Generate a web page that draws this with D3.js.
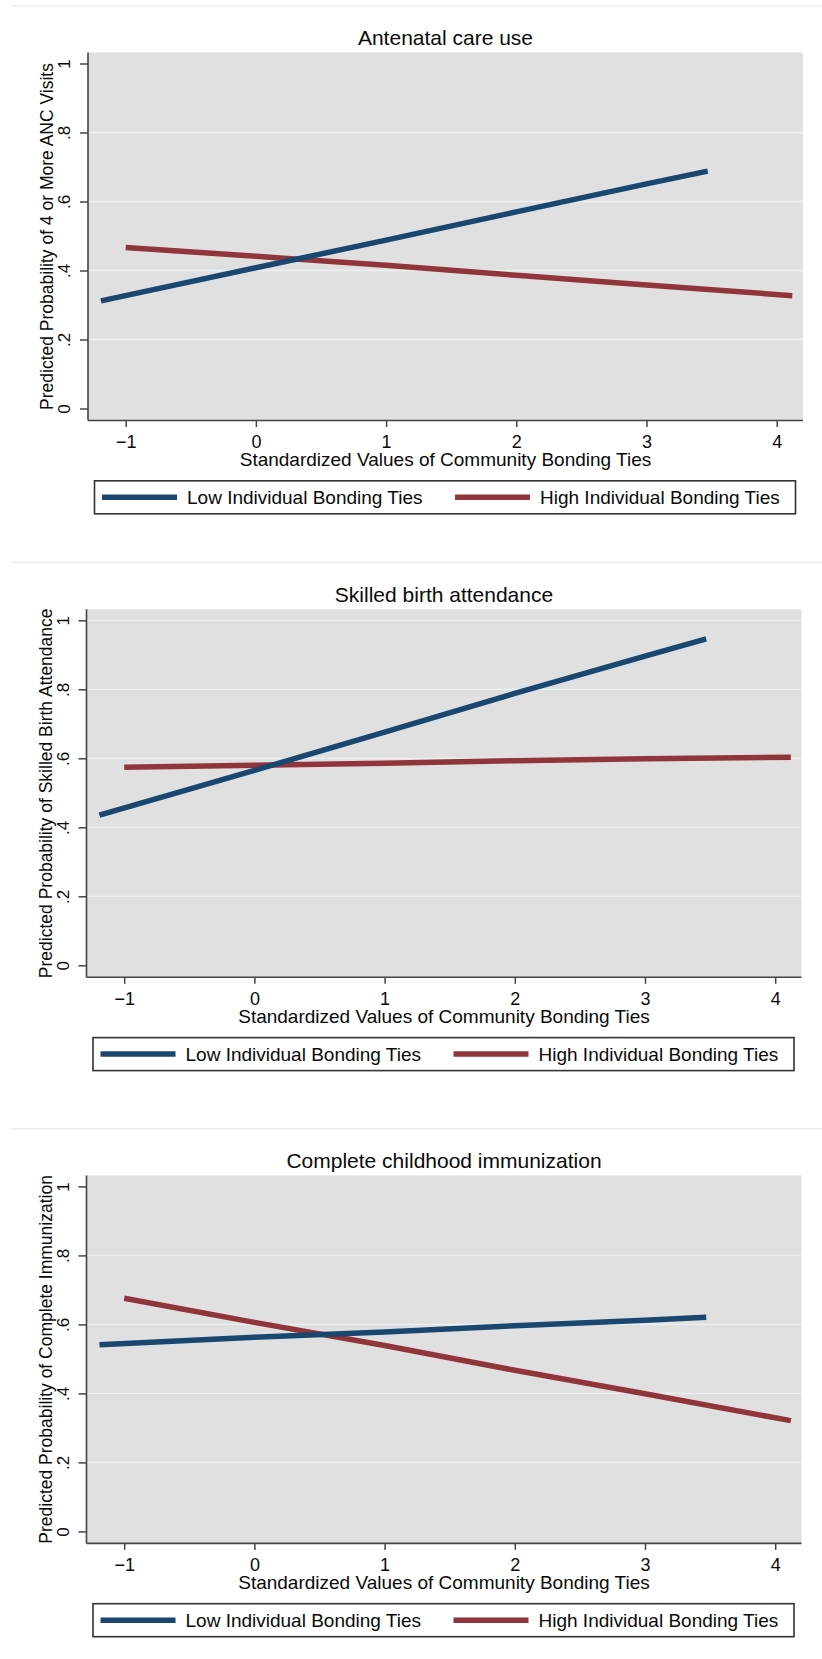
<!DOCTYPE html>
<html>
<head>
<meta charset="utf-8">
<script src="https://cdn.jsdelivr.net/npm/d3@7"></script>
<style>
  body { margin: 0; background: #ffffff; }
  svg { display: block; font-family: "Liberation Sans", Arial, sans-serif; }
</style>
</head>
<body>
<div id="chart"></div>
<script>
// ---- data ----
var xTicks = [-1, 0, 1, 2, 3, 4];
var yTicks = [0, 0.2, 0.4, 0.6, 0.8, 1];
var yTickLabels = ["0", ".2", ".4", ".6", ".8", "1"];

var seriesNames = ["Low Individual Bonding Ties", "High Individual Bonding Ties"];

var panelTitles = ["Antenatal care use", "Skilled birth attendance", "Complete childhood immunization"];
var yTitles = [
    "Predicted Probability of 4 or More ANC Visits",
    "Predicted Probability of Skilled Birth Attendance",
    "Predicted Probability of Complete Immunization"
];

// community bonding ties (x) for each series
var lowX = [-1.19, 0, 1, 2, 3, 3.47];
var highX = [-1, 0, 1, 2, 3, 4.12];

// predicted probabilities
var ancLow = [0.312, 0.408, 0.488, 0.570, 0.651, 0.688];
var ancHigh = [0.467, 0.441, 0.415, 0.386, 0.358, 0.327];

var sbaLow = [0.435, 0.565, 0.676, 0.788, 0.896, 0.946];
var sbaHigh = [0.574, 0.580, 0.586, 0.593, 0.599, 0.603];

var immLow = [0.541, 0.563, 0.578, 0.596, 0.612, 0.621];
var immHigh = [0.676, 0.606, 0.539, 0.467, 0.399, 0.321];

var lowSeries = [ancLow, sbaLow, immLow];
var highSeries = [ancHigh, sbaHigh, immHigh];

// ---- layout ----
var width = 822, height = 1659;
var panelTops = [52.5, 609.3, 1175.4];
var panelLefts = [88, 86.5, 86.5];
var gridAtOne = [false, true, false];
var plotW = 715, plotH = 368;

var navy = "#1a476f", maroon = "#90353b", ink = "#0a0a0a";

var svg = d3.select("#chart").append("svg")
    .attr("width", width)
    .attr("height", height);

var drawPanel = function (i) {
    var top = panelTops[i],
        left = panelLefts[i],
        bottom = top + plotH,
        right = left + plotW;

    var x = d3.scaleLinear()
        .domain([-1, 4])
        .range([left + 37.7, left + 37.7 + 5 * 130.2]);

    var y = d3.scaleLinear()
        .domain([0, 1])
        .range([top + 356, top + 11]);

    var g = svg.append("g").attr("class", "panel");

    // thin separator above each graph
    g.append("line")
        .attr("x1", 11)
        .attr("x2", width)
        .attr("y1", top - 46.7)
        .attr("y2", top - 46.7)
        .style("stroke", "#e6eef0")
        .style("stroke-width", 1.5);

    g.append("rect")
        .attr("x", left)
        .attr("y", top)
        .attr("width", plotW)
        .attr("height", plotH)
        .style("fill", "#e0e0e0");

    // grid lines
    var gridVals = yTicks.filter(function (d) {
        return d > 0 && (d < 1 || gridAtOne[i]);
    });
    g.selectAll(".grid")
        .data(gridVals)
        .enter()
        .append("line")
        .attr("class", "grid")
        .attr("x1", left)
        .attr("x2", right)
        .attr("y1", function (d) { return y(d); })
        .attr("y2", function (d) { return y(d); })
        .style("stroke", "#eaf1f2")
        .style("stroke-width", 1.3);

    // axes
    var xAxis = d3.axisBottom(x)
        .tickValues(xTicks)
        .tickSize(6.5)
        .tickFormat(d3.format("d"));

    var yAxis = d3.axisLeft(y)
        .tickValues(yTicks)
        .tickSize(8)
        .tickFormat(function (d, k) { return yTickLabels[k]; });

    var xg = g.append("g")
        .attr("transform", "translate(0," + bottom + ")")
        .call(xAxis);
    xg.select(".domain").remove();
    xg.selectAll("line").style("stroke", "#444").style("stroke-width", 1.5);
    xg.selectAll("text")
        .attr("y", 27.5)
        .attr("dy", null)
        .style("font-size", "18px")
        .style("fill", ink);

    var yg = g.append("g")
        .attr("transform", "translate(" + left + ",0)")
        .call(yAxis);
    yg.select(".domain").remove();
    yg.selectAll("line").style("stroke", "#444").style("stroke-width", 1.5);
    yg.selectAll("text")
        .attr("x", null)
        .attr("dy", null)
        .attr("transform", "translate(-18,0) rotate(-90)")
        .attr("text-anchor", "middle")
        .style("font-size", "17px")
        .style("fill", ink);

    // axis lines along the plot region
    g.append("line")
        .attr("x1", left).attr("x2", left)
        .attr("y1", top).attr("y2", bottom)
        .style("stroke", "#444").style("stroke-width", 1.6);
    g.append("line")
        .attr("x1", left).attr("x2", right)
        .attr("y1", bottom).attr("y2", bottom)
        .style("stroke", "#444").style("stroke-width", 1.6);

    // series lines
    var line = d3.line()
        .x(function (d) { return x(d[0]); })
        .y(function (d) { return y(d[1]); });

    var lowPts = d3.zip(lowX, lowSeries[i]);
    var highPts = d3.zip(highX, highSeries[i]);

    g.append("path")
        .datum(highPts)
        .attr("d", line)
        .style("fill", "none")
        .style("stroke", maroon)
        .style("stroke-width", 5.5);

    g.append("path")
        .datum(lowPts)
        .attr("d", line)
        .style("fill", "none")
        .style("stroke", navy)
        .style("stroke-width", 5.5);

    // titles
    g.append("text")
        .attr("x", left + plotW / 2)
        .attr("y", top - 7.5)
        .attr("text-anchor", "middle")
        .style("font-size", "21px")
        .style("fill", ink)
        .text(panelTitles[i]);

    g.append("text")
        .attr("x", left + plotW / 2)
        .attr("y", bottom + 45.3)
        .attr("text-anchor", "middle")
        .style("font-size", "19px")
        .style("fill", ink)
        .text("Standardized Values of Community Bonding Ties");

    g.append("text")
        .attr("transform", "translate(" + (left - 35) + "," + (top + plotH / 2) + ") rotate(-90)")
        .attr("text-anchor", "middle")
        .style("font-size", "17.5px")
        .style("fill", ink)
        .text(yTitles[i]);

    // legend
    var ly = bottom + 60.3, lh = 33, lc = ly + lh / 2;
    g.append("rect")
        .attr("x", left + 6.5)
        .attr("y", ly)
        .attr("width", 701)
        .attr("height", lh)
        .style("fill", "#ffffff")
        .style("stroke", "#333")
        .style("stroke-width", 1.6);

    var keys = [
        { name: seriesNames[0], color: navy, x: left + 14 },
        { name: seriesNames[1], color: maroon, x: left + 367 }
    ];
    keys.forEach(function (k) {
        g.append("line")
            .attr("x1", k.x).attr("x2", k.x + 75)
            .attr("y1", lc).attr("y2", lc)
            .style("stroke", k.color)
            .style("stroke-width", 5.5);
        g.append("text")
            .attr("x", k.x + 85)
            .attr("y", lc + 7)
            .style("font-size", "19px")
            .style("fill", ink)
            .text(k.name);
    });
}

panelTitles.forEach(function (t, i) { drawPanel(i); });
</script>
</body>
</html>
